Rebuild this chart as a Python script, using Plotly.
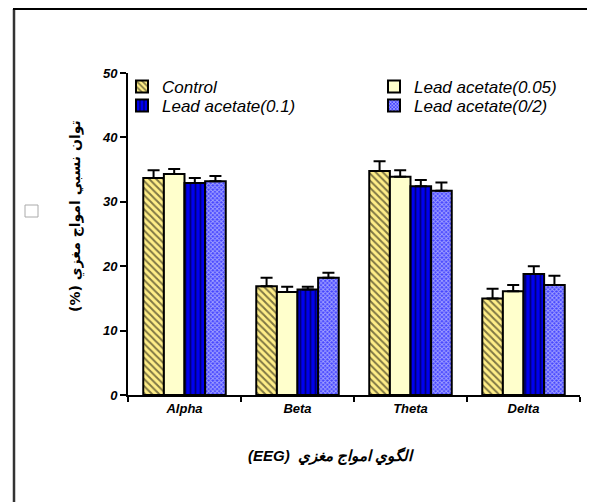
import plotly.graph_objects as go

categories = ["Alpha", "Beta", "Theta", "Delta"]
series_names = ["Control", "Lead acetate(0.05)", "Lead acetate(0.1)", "Lead acetate(0/2)"]
control = [33.7, 16.9, 34.8, 15.0]
lead_005 = [34.3, 16.0, 33.9, 16.1]
lead_01 = [32.9, 16.4, 32.4, 18.8]
lead_02 = [33.2, 18.2, 31.7, 17.1]
err_control = [1.2, 1.3, 1.5, 1.5]
err_005 = [0.8, 0.8, 1.0, 1.0]
err_01 = [0.8, 0.4, 1.0, 1.2]
err_02 = [0.8, 0.8, 1.3, 1.4]
y_ticks = [0, 10, 20, 30, 40, 50]

values = [control, lead_005, lead_01, lead_02]
errors = [err_control, err_005, err_01, err_02]
styles = [
    dict(color="#FFEE88", pattern=dict(shape="\\", fgcolor="black", bgcolor="#FFEE88", size=5, solidity=0.4)),
    dict(color="#FFFFCC"),
    dict(color="#0000EE", pattern=dict(shape="|", fgcolor="black", bgcolor="#0000EE", size=5, solidity=0.35)),
    dict(color="#4444FF", pattern=dict(shape="x", fgcolor="white", bgcolor="#4444FF", size=3, solidity=0.55)),
]
legend_ids = ["legend", "legend2", "legend3", "legend4"]

fig = go.Figure()
for name, v, e, st, lg in zip(series_names, values, errors, styles, legend_ids):
    marker = dict(line=dict(color="black", width=2))
    marker.update(st)
    fig.add_trace(go.Bar(
        x=categories, y=v, name=name, marker=marker, legend=lg,
        error_y=dict(type="data", array=e, arrayminus=[0] * len(e), symmetric=False,
                     color="black", thickness=2, width=6),
    ))

W, H = 595, 502
OFF = 8  # page body margin
L, T = 128 - OFF, 73 - OFF
pw, ph = 452, 322
R, B = W - L - pw, H - T - ph

def px(x):
    return (x - OFF - L) / pw

def py(y):
    return (T + ph - (y - OFF)) / ph

legfont = dict(family="Arial", size=17, style="italic")

def leg(x, y):
    return dict(x=px(x), y=py(y), xanchor="left", yanchor="middle",
                font=legfont, bgcolor="rgba(0,0,0,0)", borderwidth=0)

tickfont = dict(family="Arial", size=13, weight="bold", style="italic")

fig.update_layout(
    width=W, height=H,
    margin=dict(l=L, r=R, t=T, b=B),
    paper_bgcolor="white", plot_bgcolor="white",
    barmode="group", bargap=0.27, bargroupgap=0,
    font=dict(family="Arial, DejaVu Sans", color="black"),
    showlegend=True,
    legend=leg(122, 87),
    legend2=leg(374, 87),
    legend3=leg(122, 106),
    legend4=leg(374, 106),
    xaxis=dict(
        range=[-0.5, 3.5], showline=True, linecolor="black", linewidth=2,
        ticks="outside", tickson="boundaries", ticklen=5, tickwidth=2, tickcolor="black",
        tickfont=tickfont, showgrid=False, zeroline=False,
    ),
    yaxis=dict(
        range=[0, 50], tickvals=y_ticks, showline=True, linecolor="black", linewidth=2,
        ticks="outside", ticklen=6, tickwidth=2, tickcolor="black",
        tickfont=tickfont, showgrid=False, zeroline=False,
    ),
    annotations=[
        dict(text="(%) توان نسبي امواج مغزي", xref="paper", yref="paper",
             x=px(65), y=py(216), textangle=-90, showarrow=False,
             font=dict(family="DejaVu Sans", size=14, weight="bold")),
        dict(text="(EEG)  الگوي امواج مغزي", xref="paper", yref="paper",
             x=px(331), y=py(467), showarrow=False,
             font=dict(family="Arial, DejaVu Sans", size=15, weight="bold", style="italic")),
    ],
    shapes=[
        dict(type="line", xref="paper", yref="paper", x0=px(14), x1=px(14), y0=py(9), y1=py(515),
             line=dict(color="#333333", width=2.5)),
        dict(type="line", xref="paper", yref="paper", x0=px(13), x1=px(610), y0=py(9), y1=py(9),
             line=dict(color="black", width=2)),
        dict(type="rect", xref="paper", yref="paper", x0=px(25), x1=px(38), y0=py(217), y1=py(205),
             line=dict(color="#AAAAAA", width=1)),
    ],
)

fig.write_html("out.html")
